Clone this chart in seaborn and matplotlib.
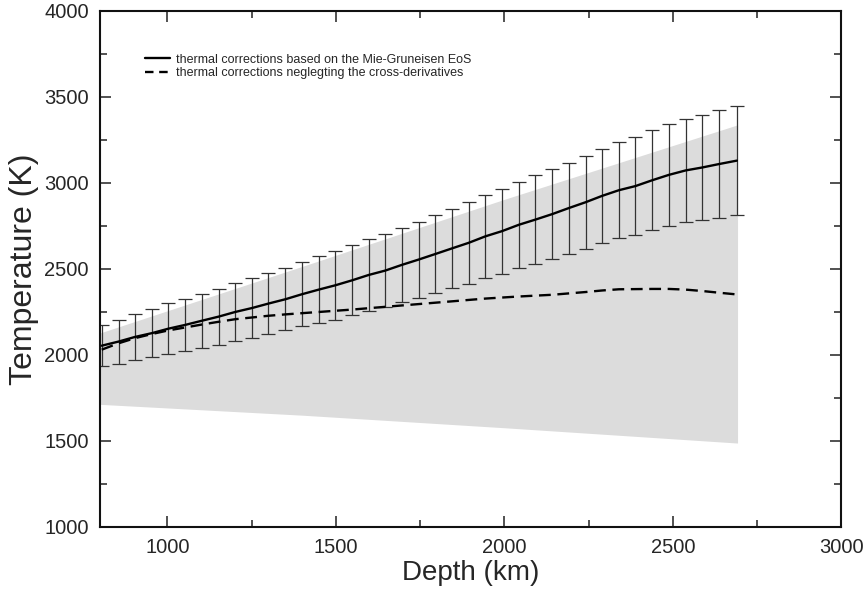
import numpy as np
import matplotlib
matplotlib.use("Agg")
import matplotlib.pyplot as plt
import seaborn as sns
import pandas as pd

# Depth of each profile point (km)
depth = [805, 855, 904, 954, 1003, 1053, 1102, 1152, 1201, 1251, 1300, 1350, 1399,
         1449, 1498, 1548, 1597, 1647, 1696, 1746, 1795, 1845, 1894, 1944, 1993, 2043,
         2092, 2142, 2191, 2241, 2290, 2340, 2389, 2439, 2488, 2538, 2587, 2637, 2690]

# Temperature with Mie-Gruneisen thermal corrections (K)
temp_mg = [2054, 2078, 2105, 2127, 2153, 2175, 2199, 2223, 2250, 2273, 2299, 2324, 2353,
           2380, 2405, 2434, 2465, 2491, 2524, 2555, 2587, 2620, 2652, 2690, 2720, 2757,
           2787, 2819, 2854, 2888, 2925, 2958, 2982, 3016, 3047, 3073, 3090, 3110, 3130]

# Half-width of the error bars (K)
temp_err = [120, 128, 134, 141, 148, 152, 158, 163, 167, 172, 177, 181, 187,
            193, 199, 203, 207, 214, 217, 221, 228, 231, 237, 242, 247, 250,
            257, 260, 265, 270, 275, 280, 286, 290, 295, 300, 306, 312, 317]

# Temperature neglecting the cross-derivatives (K)
temp_nocross = [2031, 2068, 2098, 2122, 2143, 2160, 2177, 2193, 2208, 2218, 2228, 2236, 2243,
                2250, 2257, 2264, 2272, 2280, 2288, 2296, 2304, 2312, 2320, 2328, 2334, 2340,
                2345, 2350, 2358, 2366, 2375, 2382, 2383, 2384, 2384, 2380, 2372, 2362, 2352]

# Grey band (reference range)
band_depth = [800, 1400, 2000, 2692]
band_hi = [2128, 2515, 2905, 3338]
band_lo = [1713, 1650, 1577, 1488]

df = pd.DataFrame({"depth": depth, "mg": temp_mg, "nocross": temp_nocross})

sns.set_style("ticks")
plt.rcParams["font.family"] = ["Liberation Sans", "DejaVu Sans"]

fig = plt.figure(figsize=(8.66, 5.90), dpi=100)
ax = fig.add_axes([0.1155, 0.1068, 0.856, 0.8746])

ax.fill_between(band_depth, band_lo, band_hi, color="#dcdcdc", lw=0, zorder=1)

ax.errorbar(depth, temp_mg, yerr=temp_err, fmt="none", ecolor="#333333",
            elinewidth=0.9, capsize=4.8, capthick=0.9, zorder=2)

sns.lineplot(data=df, x="depth", y="mg", ax=ax, color="black", lw=1.7, zorder=3,
             label="thermal corrections based on the Mie-Gruneisen EoS")
sns.lineplot(data=df, x="depth", y="nocross", ax=ax, color="black", lw=1.7, zorder=3,
             label="thermal corrections neglegting the cross-derivatives")
ax.lines[-1].set_dashes((5, 2.8))

ax.set_xlim(800, 3000)
ax.set_ylim(1000, 4000)
ax.set_xticks([1000, 1500, 2000, 2500, 3000])
ax.set_xticks(np.arange(1250, 3000, 500), minor=True)
ax.set_yticks(np.arange(1000, 4001, 500))
ax.set_yticks(np.arange(1250, 4000, 500), minor=True)

ax.tick_params(which="both", direction="in", top=True, right=True, width=1.2,
               labelsize=14.5, color="#333333")
ax.tick_params(which="major", length=8)
ax.tick_params(which="minor", length=5)
ax.tick_params(axis="x", pad=8)
ax.tick_params(axis="y", pad=8)
for s in ax.spines.values():
    s.set_linewidth(1.5)
    s.set_color("#111111")

ax.set_xlabel("Depth (km)", fontsize=20, labelpad=2)
ax.set_ylabel("Temperature (K)", fontsize=23, labelpad=4)

leg = ax.legend(loc="upper left", bbox_to_anchor=(0.0610, 0.917), frameon=False,
                fontsize=9, handlelength=1.95, handletextpad=0.55, labelspacing=0.12,
                borderpad=0, borderaxespad=0)
leg_lines = leg.get_lines()
for h in leg_lines:
    h.set_linewidth(1.7)
leg_lines[1].set_dashes((3.6, 2.4))

fig.savefig("out.png", dpi=100)
